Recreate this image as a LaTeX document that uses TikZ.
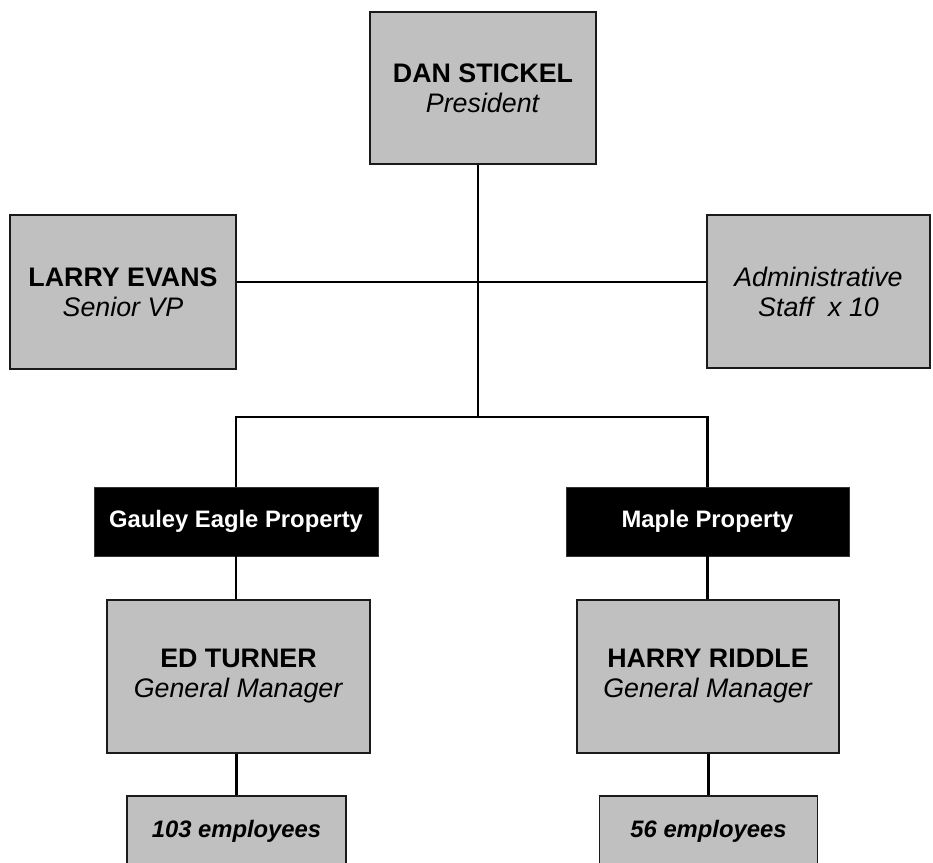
\documentclass[tikz,border=0pt]{standalone}
\usepackage{fontspec}
\setmainfont{Liberation Sans}
\definecolor{boxgray}{HTML}{C0C0C0}
\definecolor{edgegray}{HTML}{1A1A1A}
\begin{document}
\begin{tikzpicture}[x=1pt,y=-1pt,
  graybox/.style={draw=edgegray,line width=1.5pt,fill=boxgray,inner sep=0pt,align=center,
    font=\fontsize{26.8}{30}\selectfont},
  blackbox/.style={draw=black!80,line width=0.8pt,fill=black,text=white,inner sep=0pt,align=center,
    minimum height=69pt,font=\fontsize{23.8}{28}\selectfont\bfseries},
  empbox/.style={draw=edgegray,line width=1.5pt,fill=boxgray,inner sep=0pt,align=center,
    minimum height=70pt,font=\fontsize{23.8}{28}\selectfont\bfseries\itshape},
  conn/.style={line width=2.5pt,black}]
\useasboundingbox (0,0) rectangle (933,862);
\clip (0,0) rectangle (933,862);
\fill[white] (0,0) rectangle (933,862);
% boxes
\node[graybox,minimum width=226pt,minimum height=152pt] (dan) at (483,88) {\textbf{DAN STICKEL}\\\textit{President}};
\node[graybox,minimum width=226pt,minimum height=154pt] (larry) at (123,292) {\textbf{LARRY EVANS}\\\textit{Senior VP}};
\node[graybox,minimum width=223pt,minimum height=153pt] (admin) at (818.5,291.5) {\textit{Administrative}\\\textit{Staff\ \ x 10}};
\node[blackbox,minimum width=284pt] (gauley) at (236,521.5) {Gauley Eagle Property};
\node[blackbox,minimum width=283pt] (maple) at (707.5,521.5) {Maple Property};
\node[graybox,minimum width=263pt,minimum height=153pt] (ed) at (238.5,676.5) {\textbf{ED TURNER}\\\textit{General Manager}};
\node[graybox,minimum width=262pt,minimum height=153pt] (harry) at (708,676.5) {\textbf{HARRY RIDDLE}\\\textit{General Manager}};
\node[empbox,minimum width=219pt] (emp1) at (236.5,831) {103 employees};
\node[empbox,minimum width=218pt] (emp2) at (708.5,831) {56 employees};
% junctions
\coordinate (j1) at (478,282);
\coordinate (j2) at (478,417);
% connectors
\draw[conn] (dan.south -| j1) -- (j2);
\draw[conn] (larry.east |- j1) -- (admin.west |- j1);
\draw[conn] (gauley.north) |- (j2) -| (maple.north);
\draw[conn] (gauley.south) -- (gauley.south |- ed.north);
\draw[conn] (maple.south) -- (maple.south |- harry.north);
\draw[conn] (ed.south -| emp1.north) -- (emp1.north);
\draw[conn] (harry.south -| emp2.north) -- (emp2.north);
\end{tikzpicture}
\end{document}
